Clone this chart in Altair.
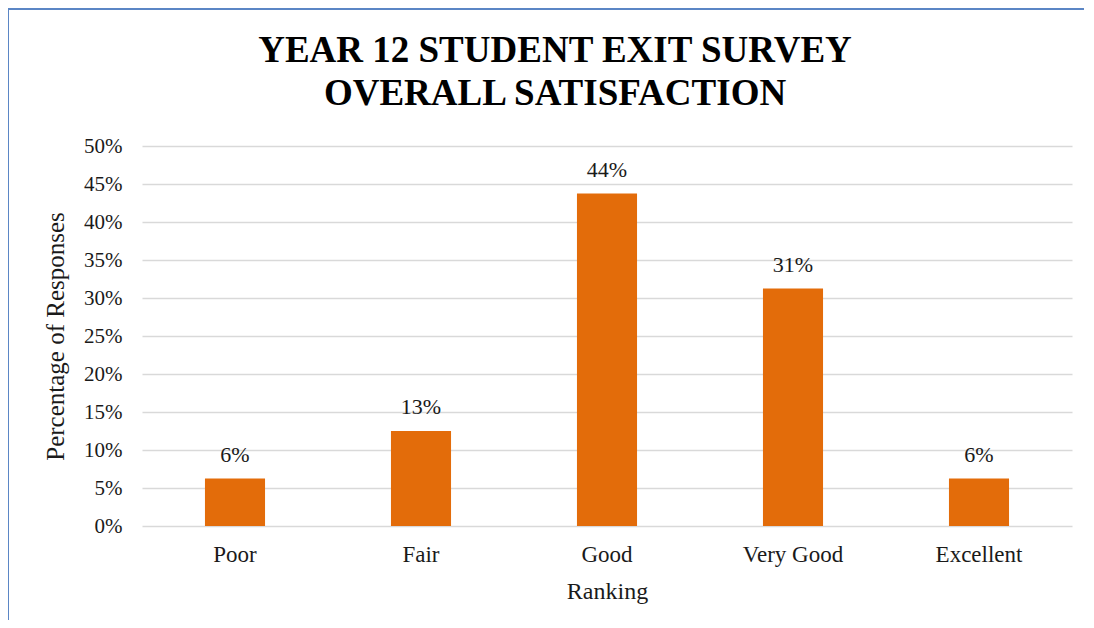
import altair as alt
import pandas as pd

# ---- data ----
categories = ["Poor", "Fair", "Good", "Very Good", "Excellent"]
shares = [0.0625, 0.125, 0.4375, 0.3125, 0.0625]
y_ticks = [0.0, 0.05, 0.10, 0.15, 0.20, 0.25, 0.30, 0.35, 0.40, 0.45, 0.50]
title_lines = ["YEAR 12 STUDENT EXIT SURVEY", "OVERALL SATISFACTION"]
x_title = "Ranking"
y_title = "Percentage of Responses"

df = pd.DataFrame({"Ranking": categories, "Share": shares})

FONT = "Liberation Serif"
W, H = 930, 380
BAR = "#E36C0A"
BORDER = "#5b86c5"
TXT = "#1a1a1a"

x_enc = alt.X(
    "Ranking:N",
    sort=categories,
    scale=alt.Scale(paddingInner=0.677, paddingOuter=0.3385),
    axis=alt.Axis(
        title=x_title,
        labelAngle=0,
        labelPadding=17,
        titlePadding=13,
        labelFontSize=23,
        titleFontSize=24,
        grid=False,
    ),
)
y_enc = alt.Y(
    "Share:Q",
    scale=alt.Scale(domain=[0, 0.5]),
    axis=alt.Axis(
        title=y_title,
        format=".0%",
        values=y_ticks,
        labelOverlap=False,
        labelPadding=20,
        titlePadding=15,
        labelFontSize=21,
        titleFontSize=25,
    ),
)

bars = alt.Chart(df).mark_bar(color=BAR).encode(x=x_enc, y=y_enc)

labels = alt.Chart(df).mark_text(
    dy=-17, baseline="alphabetic", fontSize=22, font=FONT, color=TXT
).encode(
    x=x_enc,
    y=y_enc,
    text=alt.Text("Share:Q", format=".0%"),
)

frame_df = pd.DataFrame({"k": [0]})
title_1 = alt.Chart(frame_df).mark_text(
    text=title_lines[0], font=FONT, fontSize=37, fontWeight="bold",
    color="#000000", align="center", baseline="alphabetic",
).encode(x=alt.value(413), y=alt.value(-84))
title_2 = alt.Chart(frame_df).mark_text(
    text=title_lines[1], font=FONT, fontSize=37, fontWeight="bold",
    color="#000000", align="center", baseline="alphabetic",
).encode(x=alt.value(413), y=alt.value(-41))

left_border = alt.Chart(frame_df).mark_rule(color=BORDER, strokeWidth=2).encode(
    x=alt.value(-134), y=alt.value(-137), y2=alt.value(700)
)
top_border = alt.Chart(frame_df).mark_rule(color=BORDER, strokeWidth=2).encode(
    x=alt.value(-135), x2=alt.value(942), y=alt.value(-137)
)

chart = (
    alt.layer(bars, labels, title_1, title_2, left_border, top_border)
    .properties(
        width=W,
        height=H,
        padding={"left": 134, "top": 138, "right": 14, "bottom": 94},
        autosize=alt.AutoSizeParams(type="none"),
        background="white",
    )
    .configure_view(stroke=None)
    .configure_axis(
        labelFont=FONT,
        titleFont=FONT,
        labelColor=TXT,
        titleColor=TXT,
        titleFontWeight="normal",
        domain=False,
        ticks=False,
        gridColor="#d9d9d9",
        gridWidth=1.5,
    )
)

chart.save("out.html", embed_options={"renderer": "svg", "actions": False})
